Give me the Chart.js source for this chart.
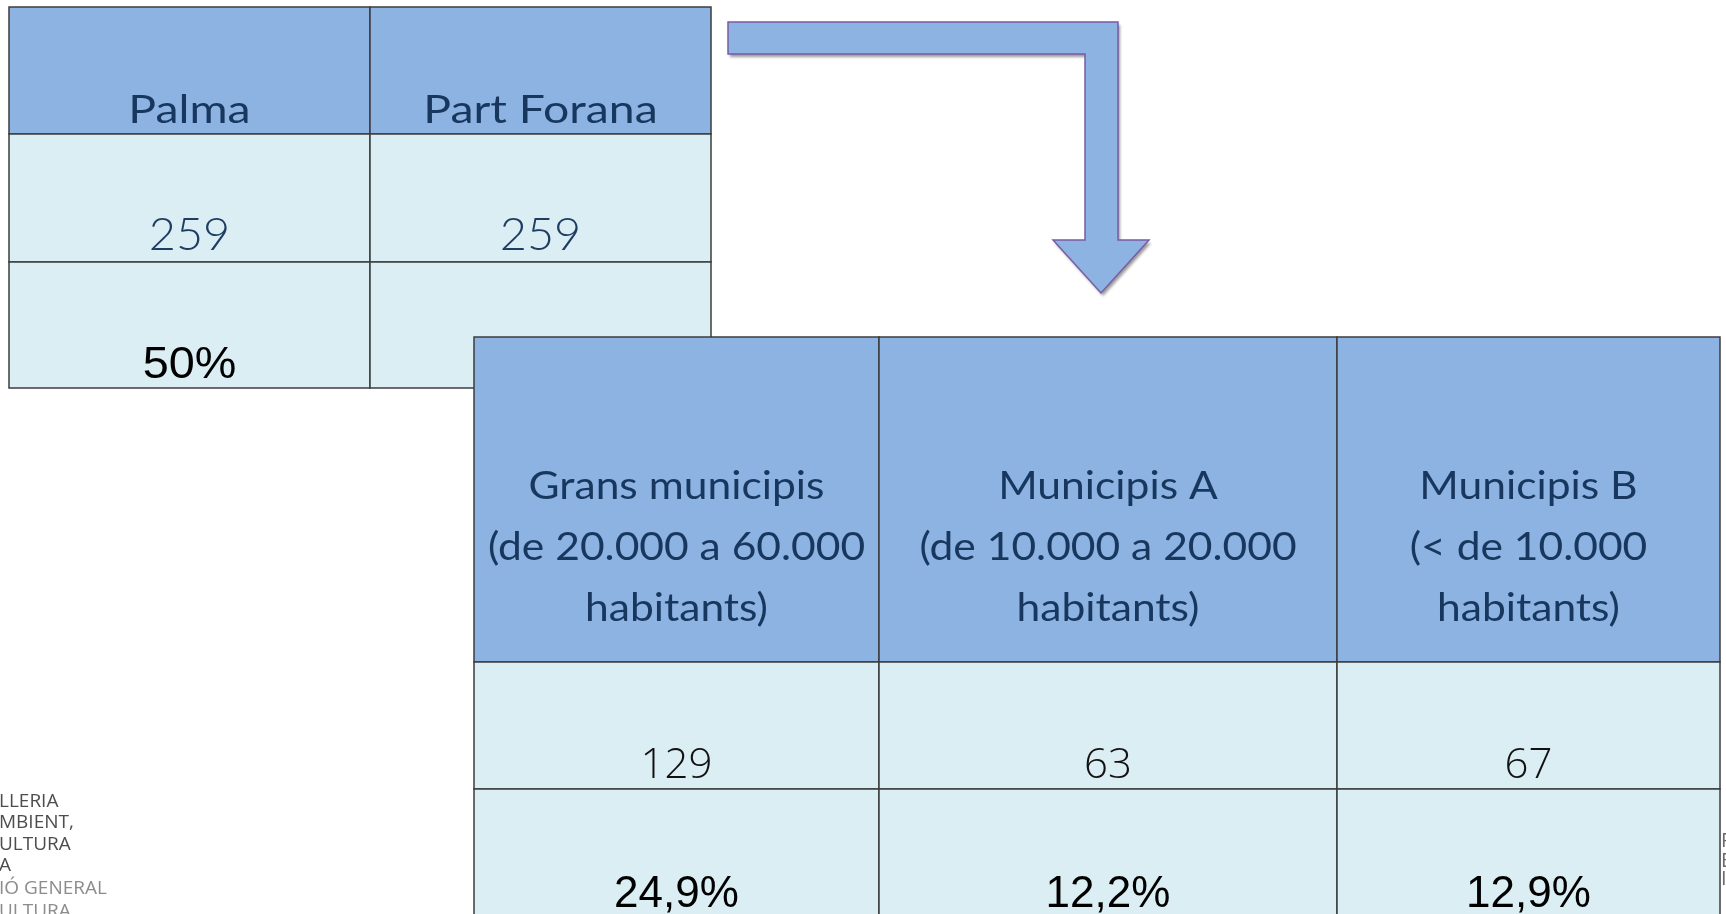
<!DOCTYPE html>
<html>
<head>
<meta charset="utf-8">
<script src="https://cdn.jsdelivr.net/npm/chart.js"></script>
<style>
  html, body { margin: 0; padding: 0; background: #fff; }
  #tables { display: block; }
</style>
</head>
<body>
<canvas id="tables" width="1726" height="914"></canvas>
<script>
  // data
  const topCategories = ['Palma', 'Part Forana'];
  const topCounts = [259, 259];
  const topShares = [50, 50];

  const bottomCategories = [
    ['Grans municipis', '(de 20.000 a 60.000', 'habitants)'],
    ['Municipis A', '(de 10.000 a 20.000', 'habitants)'],
    ['Municipis B', '(< de 10.000', 'habitants)'],
  ];
  const bottomCounts = [129, 63, 67];
  const bottomShares = [24.9, 12.2, 12.9];

  // layout, in scale units (one unit = one pixel of the page)
  const topCols = [9, 370, 711];
  const topRows = [7, 134, 262, 388];
  const bottomCols = [474, 879, 1337, 1720];
  const bottomRows = [337, 662, 789, 940];
  const arrowPath = [[728, 22], [1118, 22], [1118, 240], [1149, 240], [1101, 293],
                     [1053, 240], [1085, 240], [1085, 54], [728, 54]];

  const headFill = '#8db3e2';
  const bodyFill = '#dbeef4';
  const gridColor = '#3d3d3d';
  const navy = '#17375e';

  const fmtPct = (v) => v.toFixed(v % 1 === 0 ? 0 : 1).replace('.', ',') + '%';

  function drawTable(chart, cols, rows, rowTexts) {
    const ctx = chart.ctx;
    const x = chart.scales.x, y = chart.scales.y;
    for (let r = 0; r < rows.length - 1; r++) {
      const y0 = y.getPixelForValue(rows[r]);
      const y1 = y.getPixelForValue(rows[r + 1]);
      for (let c = 0; c < cols.length - 1; c++) {
        const x0 = x.getPixelForValue(cols[c]);
        const x1 = x.getPixelForValue(cols[c + 1]);
        ctx.fillStyle = r === 0 ? headFill : bodyFill;
        ctx.fillRect(x0, y0, x1 - x0, y1 - y0);
        ctx.strokeStyle = gridColor;
        ctx.lineWidth = 1.5;
        ctx.strokeRect(x0, y0, x1 - x0, y1 - y0);

        const row = rowTexts[r];
        let lines = row.texts[c];
        if (!Array.isArray(lines)) lines = [lines];
        ctx.save();
        ctx.beginPath();
        ctx.rect(x0, y0, x1 - x0, y1 - y0);
        ctx.clip();
        ctx.font = row.font;
        ctx.fillStyle = row.color;
        ctx.textAlign = 'center';
        ctx.textBaseline = 'alphabetic';
        const cx = (x0 + x1) / 2;
        const base = y.getPixelForValue(rows[r] + row.baseline);
        ctx.translate(cx, base);
        ctx.scale(row.sx || 1, 1);
        lines.forEach((t, i) => {
          ctx.fillText(t, 0, i * (row.lineGap || 0));
        });
        ctx.restore();
      }
    }
  }

  function drawArrow(chart) {
    const ctx = chart.ctx;
    const x = chart.scales.x, y = chart.scales.y;
    ctx.save();
    ctx.beginPath();
    arrowPath.forEach((p, i) => {
      const px = x.getPixelForValue(p[0]), py = y.getPixelForValue(p[1]);
      if (i === 0) ctx.moveTo(px, py); else ctx.lineTo(px, py);
    });
    ctx.closePath();
    ctx.shadowColor = 'rgba(0,0,0,0.4)';
    ctx.shadowOffsetX = 2;
    ctx.shadowOffsetY = 3;
    ctx.shadowBlur = 3;
    ctx.fillStyle = headFill;
    ctx.fill();
    ctx.shadowColor = 'transparent';
    ctx.strokeStyle = '#7a5ba6';
    ctx.lineWidth = 1.5;
    ctx.stroke();
    ctx.restore();
  }

  function drawFragments(chart) {
    const ctx = chart.ctx;
    ctx.save();
    ctx.font = '19px "Open Sans", sans-serif';
    ctx.textAlign = 'left';
    const left = [['LLERIA', 807, '#4d4d4d'], ['MBIENT,', 828, '#4d4d4d'], ['ULTURA', 850, '#4d4d4d'],
                  ['A', 871, '#4d4d4d'], ['IÓ GENERAL', 894, '#8c8c8c'], ['ULTURA', 917, '#8c8c8c']];
    left.forEach(([t, by, col]) => { ctx.fillStyle = col; ctx.fillText(t, -1, by); });
    const right = [['R', 847], ['E', 867], ['IF', 885]];
    ctx.fillStyle = '#6a6a6a';
    ctx.font = '20px "Open Sans", sans-serif';
    right.forEach(([t, by]) => ctx.fillText(t, 1721, by));
    ctx.restore();
  }

  const tablePlugin = {
    id: 'tablePlugin',
    afterDraw(chart) {
      drawTable(chart, topCols, topRows, [
        { texts: topCategories, font: '38px Lato, sans-serif', color: navy, baseline: 116, sx: 1.22 },
        { texts: topCounts.map(String), font: '300 45px Lato, sans-serif', color: '#1f3d63', baseline: 116, sx: 1.04 },
        { texts: topShares.map(fmtPct), font: '45px "Liberation Sans", sans-serif', color: '#000', baseline: 116, sx: 1.04 },
      ]);
      drawArrow(chart);
      drawTable(chart, bottomCols, bottomRows, [
        { texts: bottomCategories, font: '38px Lato, sans-serif', color: navy, baseline: 162, lineGap: 61, sx: 1.12 },
        { texts: bottomCounts.map(String), font: '300 42px "Open Sans", sans-serif', color: '#111', baseline: 116 },
        { texts: bottomShares.map(fmtPct), font: '44px "Liberation Sans", sans-serif', color: '#000', baseline: 118 },
      ]);
      drawFragments(chart);
    }
  };

  const config = {
    type: 'scatter',
    data: { datasets: [{ data: [] }] },
    options: {
      responsive: false,
      animation: false,
      events: [],
      layout: { padding: 0 },
      plugins: { legend: { display: false }, tooltip: { enabled: false } },
      scales: {
        x: { type: 'linear', min: 0, max: 1726, display: false },
        y: { type: 'linear', min: 0, max: 914, reverse: true, display: false }
      }
    },
    plugins: [tablePlugin]
  };

  const myChart = new Chart(document.getElementById('tables'), config);
</script>
</body>
</html>
